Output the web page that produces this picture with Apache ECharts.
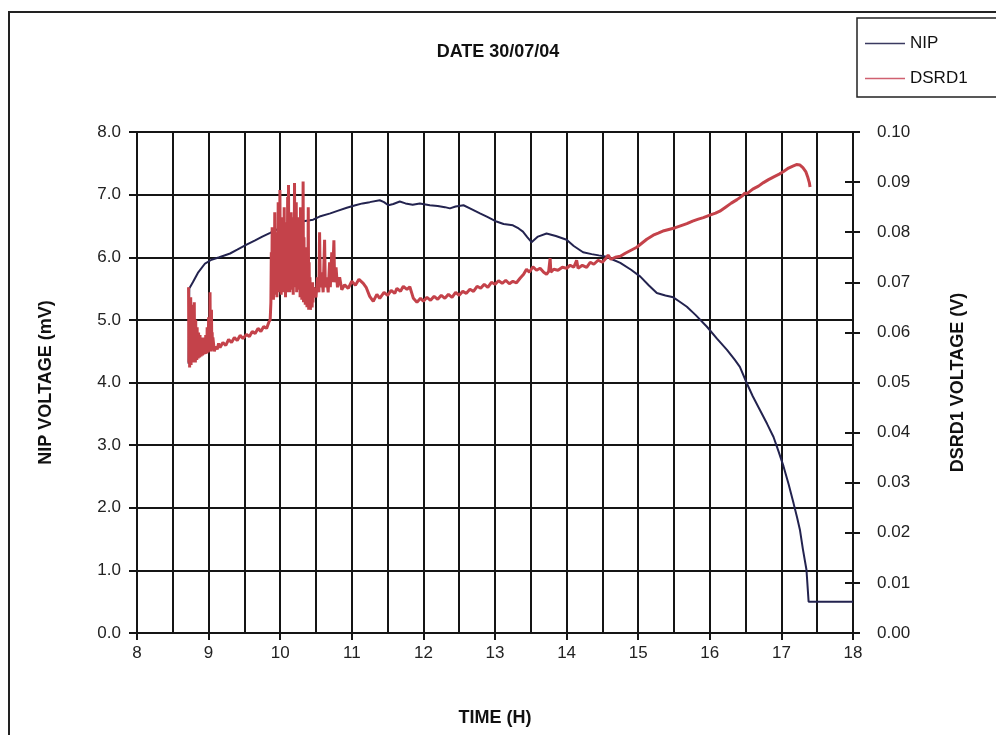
<!DOCTYPE html>
<html>
<head>
<meta charset="utf-8">
<script src="https://cdn.jsdelivr.net/npm/echarts@6/dist/echarts.min.js"></script>
<style>html,body{margin:0;padding:0;background:#fff}#c{width:996px;height:735px}</style>
</head>
<body>
<div id="c"></div>
<script>
// ---- Data ----
const titleText = 'DATE 30/07/04';
const seriesNames = ['NIP', 'DSRD1'];
const leftTicks = { min: 0, max: 8, interval: 1 };
const rightTicks = { min: 0, max: 0.1, interval: 0.01 };
const timeTicks = { min: 8, max: 18, interval: 1 };

// NIP voltage (mV) vs time (h)
const nipTime = [8.72,8.73,8.78,8.85,8.95,9.04,9.15,9.30,9.40,9.53,9.65,9.75,9.86,10.00,10.14,10.30,10.46,10.55,10.70,10.80,10.93,11.05,11.15,11.25,11.39,11.45,11.51,11.58,11.67,11.75,11.85,11.95,12.09,12.20,12.30,12.37,12.45,12.56,12.65,12.79,12.90,13.02,13.12,13.25,13.33,13.39,13.45,13.51,13.60,13.72,13.85,14.00,14.10,14.23,14.35,14.45,14.56,14.65,14.75,14.90,15.03,15.15,15.26,15.38,15.49,15.58,15.68,15.80,15.96,16.10,16.24,16.35,16.42,16.52,16.60,16.70,16.80,16.89,16.96,17.03,17.10,17.17,17.22,17.26,17.30,17.35,17.38,17.40,18.00];
const nipValue = [4.30,5.50,5.60,5.75,5.90,5.96,6.00,6.06,6.12,6.20,6.27,6.33,6.39,6.47,6.53,6.57,6.60,6.65,6.70,6.74,6.79,6.83,6.86,6.88,6.91,6.88,6.83,6.85,6.89,6.86,6.84,6.86,6.83,6.82,6.80,6.78,6.81,6.83,6.78,6.70,6.64,6.57,6.53,6.51,6.46,6.41,6.32,6.24,6.33,6.38,6.34,6.28,6.18,6.08,6.05,6.03,6.01,5.96,5.91,5.80,5.69,5.55,5.43,5.39,5.36,5.29,5.21,5.08,4.89,4.70,4.52,4.36,4.25,3.98,3.78,3.56,3.34,3.13,2.90,2.66,2.38,2.07,1.84,1.64,1.34,1.01,0.50,0.50,0.50];

// DSRD1 voltage (V) vs time (h)
const dsrdTime = [
 8.720,8.725,8.730,8.735,8.740,8.745,8.750,8.755,8.760,8.765,8.770,8.775,8.780,8.785,8.790,8.795,8.800,8.805,8.810,8.815,8.820,8.825,8.830,8.835,8.840,8.845,8.850,8.855,8.860,8.865,8.870,8.875,8.880,8.885,8.890,8.895,8.900,8.905,8.910,8.915,8.920,8.925,8.930,8.935,8.940,8.945,8.950,8.955,8.960,8.965,8.970,8.975,8.980,8.985,8.990,8.995,9.000,9.005,9.010,9.015,9.020,9.025,9.030,9.035,9.040,9.045,9.050,9.055,9.060,
 9.08,9.10,9.12,9.14,9.16,9.20,9.24,9.28,9.32,9.36,9.40,9.44,9.48,9.53,9.57,9.61,9.65,9.69,9.73,9.77,9.81,9.84,9.86,
 9.870,9.876,9.882,9.888,9.894,9.900,9.906,9.912,9.918,9.924,9.930,9.936,9.942,9.948,9.954,9.960,9.966,9.972,9.978,9.984,9.990,9.996,10.002,10.008,10.014,10.020,10.026,10.032,10.038,10.044,10.050,10.056,10.062,10.068,10.074,10.080,10.086,10.092,10.098,10.104,10.110,10.116,10.122,10.128,10.134,10.140,10.146,10.152,10.158,10.164,10.170,10.176,10.182,10.188,10.194,10.200,10.206,10.212,10.218,10.224,10.230,10.236,10.242,10.248,10.254,10.260,10.266,10.272,10.278,10.284,10.290,10.296,10.302,10.308,10.314,10.320,10.326,10.332,10.338,10.344,10.350,10.356,10.362,10.368,10.374,10.380,10.386,10.392,10.398,10.404,10.410,10.416,10.422,10.428,10.434,10.440,10.446,10.452,10.458,10.464,
 10.48,10.50,10.52,10.54,10.55,10.56,10.58,10.60,10.62,10.63,10.65,10.67,10.69,10.70,10.72,10.73,10.75,10.76,10.78,10.80,10.83,10.86,
 10.90,10.95,11.00,11.05,11.10,11.16,11.20,11.25,11.30,11.35,11.39,11.45,11.50,11.55,11.60,11.63,11.68,11.72,11.77,11.81,11.86,11.91,11.96,12.00,12.05,12.10,12.15,12.20,12.25,12.30,12.35,12.40,12.45,12.50,12.55,12.60,12.65,12.70,12.75,12.80,12.85,12.90,12.95,13.00,13.05,13.10,13.15,13.20,13.25,13.30,13.35,13.40,13.44,13.48,13.53,13.58,13.63,13.68,13.72,13.75,13.77,13.78,13.82,13.88,13.94,14.00,14.05,14.10,14.14,14.16,14.22,14.28,14.33,14.38,14.44,14.50,14.55,14.58,14.62,14.68,14.75,14.82,14.90,14.98,15.05,15.12,15.21,15.28,15.36,15.44,15.52,15.60,15.68,15.76,15.84,15.91,16.00,16.08,16.14,16.22,16.30,16.38,16.45,16.49,16.52,16.60,16.68,16.75,16.82,16.90,16.97,17.03,17.10,17.16,17.21,17.26,17.30,17.34,17.37,17.39,17.40];
const dsrdValue = [
 0.0690,0.0540,0.0650,0.0530,0.0630,0.0545,0.0670,0.0535,0.0620,0.0540,0.0655,0.0545,0.0610,0.0540,0.0640,0.0550,0.0660,0.0545,0.0600,0.0540,0.0625,0.0550,0.0590,0.0545,0.0610,0.0550,0.0585,0.0548,0.0600,0.0552,0.0580,0.0550,0.0595,0.0555,0.0578,0.0552,0.0590,0.0556,0.0575,0.0554,0.0585,0.0558,0.0578,0.0556,0.0590,0.0558,0.0580,0.0557,0.0595,0.0560,0.0585,0.0558,0.0610,0.0562,0.0600,0.0560,0.0630,0.0562,0.0605,0.0564,0.0680,0.0565,0.0620,0.0562,0.0645,0.0566,0.0600,0.0565,0.0590,
 0.0562,0.0572,0.0566,0.0578,0.0570,0.0580,0.0574,0.0586,0.0580,0.0590,0.0584,0.0594,0.0588,0.0596,0.0592,0.0602,0.0598,0.0608,0.0602,0.0612,0.0608,0.0620,0.0625,
 0.0660,0.0760,0.0670,0.0810,0.0680,0.0740,0.0665,0.0790,0.0690,0.0840,0.0675,0.0770,0.0685,0.0800,0.0670,0.0760,0.0700,0.0860,0.0680,0.0780,0.0690,0.0884,0.0700,0.0810,0.0675,0.0790,0.0690,0.0830,0.0680,0.0770,0.0705,0.0850,0.0685,0.0800,0.0670,0.0780,0.0695,0.0820,0.0680,0.0870,0.0710,0.0894,0.0690,0.0810,0.0680,0.0790,0.0700,0.0840,0.0685,0.0760,0.0695,0.0800,0.0675,0.0830,0.0700,0.0898,0.0690,0.0820,0.0705,0.0860,0.0680,0.0790,0.0695,0.0830,0.0700,0.0830,0.0685,0.0800,0.0670,0.0850,0.0690,0.0780,0.0665,0.0810,0.0680,0.0901,0.0660,0.0790,0.0670,0.0740,0.0655,0.0770,0.0665,0.0730,0.0650,0.0750,0.0660,0.0850,0.0645,0.0740,0.0655,0.0710,0.0645,0.0700,0.0660,0.0690,0.0650,0.0700,0.0660,0.0690,
 0.0680,0.0670,0.0710,0.0680,0.0800,0.0690,0.0720,0.0680,0.0785,0.0690,0.0710,0.0680,0.0740,0.0690,0.0760,0.0700,0.0784,0.0700,0.0730,0.0690,0.0710,0.0685,
 0.0695,0.0688,0.0702,0.0694,0.0706,0.0698,0.0690,0.0672,0.0662,0.0676,0.0668,0.0680,0.0674,0.0684,0.0678,0.0688,0.0682,0.0692,0.0686,0.0691,0.0668,0.0660,0.0668,0.0662,0.0670,0.0664,0.0672,0.0666,0.0674,0.0668,0.0676,0.0670,0.0680,0.0674,0.0682,0.0678,0.0686,0.0682,0.0692,0.0688,0.0696,0.0690,0.0700,0.0696,0.0703,0.0698,0.0704,0.0697,0.0702,0.0699,0.0708,0.0716,0.0726,0.0720,0.0731,0.0724,0.0728,0.0720,0.0716,0.0722,0.0748,0.0720,0.0726,0.0724,0.0730,0.0728,0.0734,0.0730,0.0744,0.0728,0.0734,0.0730,0.0740,0.0736,0.0744,0.0740,0.0748,0.0754,0.0746,0.0750,0.0752,0.0758,0.0764,0.0770,0.0778,0.0786,0.0794,0.0798,0.0803,0.0806,0.0809,0.0813,0.0817,0.0822,0.0826,0.0829,0.0834,0.0838,0.0842,0.0850,0.0858,0.0865,0.0872,0.0878,0.0877,0.0886,0.0892,0.0899,0.0905,0.0911,0.0916,0.0921,0.0928,0.0932,0.0935,0.0934,0.0929,0.0921,0.0909,0.0899,0.0890];

const nipData = nipTime.map((t, i) => [t, nipValue[i]]);
const dsrdData = dsrdTime.map((t, i) => [t, dsrdValue[i]]);

const FONT = '"Liberation Sans", Arial, sans-serif';
const GRID = '#151515';

const chart = echarts.init(document.getElementById('c'), null, { renderer: 'canvas' });
chart.setOption({
  backgroundColor: '#ffffff',
  animation: false,
  title: {
    text: titleText, left: 'center', top: 38,
    textStyle: { fontFamily: FONT, fontSize: 18, fontWeight: 'bold', color: '#111' }
  },
  legend: {
    orient: 'vertical', left: 857, top: 18,
    padding: [17, 70, 10, 8], itemGap: 18, itemWidth: 40, itemHeight: 1.5,
    icon: 'rect',
    borderColor: '#222', borderWidth: 1.5, backgroundColor: '#fff',
    textStyle: { fontFamily: FONT, fontSize: 17, color: '#111' },
    data: seriesNames
  },
  graphic: [{
    type: 'rect', silent: true, z: -10,
    shape: { x: 9, y: 12, width: 1000, height: 740 },
    style: { fill: 'none', stroke: '#222', lineWidth: 2 }
  }],
  grid: { left: 137, right: 143, top: 132, bottom: 102 },
  xAxis: {
    type: 'value', min: timeTicks.min, max: timeTicks.max, interval: timeTicks.interval,
    name: 'TIME (H)', nameLocation: 'middle', nameGap: 76,
    nameTextStyle: { fontFamily: FONT, fontSize: 18, fontWeight: 'bold', color: '#111' },
    axisLine: { show: true, lineStyle: { color: GRID, width: 2 } },
    axisTick: { show: true, length: 7, lineStyle: { color: GRID, width: 2 } },
    axisLabel: { margin: 12, fontFamily: FONT, fontSize: 17, color: '#222' },
    splitLine: { show: true, lineStyle: { color: GRID, width: 2 } },
    minorTick: { show: false, splitNumber: 2 },
    minorSplitLine: { show: true, lineStyle: { color: GRID, width: 2 } }
  },
  yAxis: [{
    type: 'value', position: 'left', min: leftTicks.min, max: leftTicks.max, interval: leftTicks.interval,
    name: 'NIP VOLTAGE (mV)', nameLocation: 'middle', nameGap: 82, nameRotate: 90,
    nameTextStyle: { fontFamily: FONT, fontSize: 18, fontWeight: 'bold', color: '#111' },
    axisLine: { show: true, lineStyle: { color: GRID, width: 2 } },
    axisTick: { show: true, length: 8, lineStyle: { color: GRID, width: 2 } },
    axisLabel: { margin: 16, fontFamily: FONT, fontSize: 17, color: '#222', formatter: v => v.toFixed(1) },
    splitLine: { show: true, lineStyle: { color: GRID, width: 2 } }
  }, {
    type: 'value', position: 'right', min: rightTicks.min, max: rightTicks.max, interval: rightTicks.interval,
    name: 'DSRD1 VOLTAGE (V)', nameLocation: 'middle', nameGap: 96, nameRotate: 90,
    nameTextStyle: { fontFamily: FONT, fontSize: 18, fontWeight: 'bold', color: '#111' },
    axisLine: { show: true, lineStyle: { color: GRID, width: 2 } },
    axisTick: { show: true, length: 7, lineStyle: { color: GRID, width: 2 } },
    axisLabel: { margin: 24, fontFamily: FONT, fontSize: 17, color: '#222', formatter: v => v.toFixed(2) },
    splitLine: { show: false }
  }, {
    type: 'value', position: 'right', min: rightTicks.min, max: rightTicks.max, interval: rightTicks.interval,
    axisLine: { show: false },
    axisTick: { show: true, inside: true, length: 8, lineStyle: { color: GRID, width: 2 } },
    axisLabel: { show: false },
    splitLine: { show: false }
  }],
  series: [{
    name: seriesNames[0], type: 'line', yAxisIndex: 0, data: nipData,
    symbol: 'none', z: 3,
    lineStyle: { color: '#23234f', width: 2 }, itemStyle: { color: '#3a3a60' }
  }, {
    name: seriesNames[1], type: 'line', yAxisIndex: 1, data: dsrdData,
    symbol: 'none', z: 4,
    lineStyle: { color: '#c4424a', width: 3 }, itemStyle: { color: '#d06070' }
  }]
});
</script>
</body>
</html>
